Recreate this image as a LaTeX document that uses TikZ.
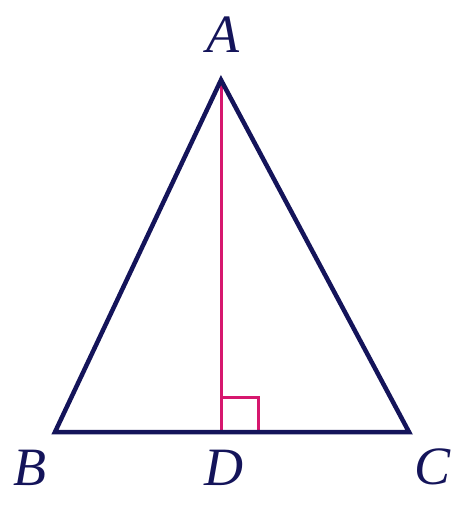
\documentclass[tikz,border=0pt]{standalone}
\usepackage{fontspec}
\setmainfont{Liberation Serif}
\usetikzlibrary{calc}
\begin{document}
\begin{tikzpicture}[x=1pt,y=-1pt,
  navy/.style={draw=navyc,line width=4.5pt,line join=miter},
  alt/.style={draw=magc,line width=3pt},
  lbl/.style={text=navyc,font=\fontsize{54}{60}\selectfont\itshape,inner sep=0pt}]
\definecolor{navyc}{HTML}{14145A}
\definecolor{magc}{HTML}{D6176E}
\useasboundingbox (0,0) rectangle (475,530);
\coordinate (A) at (221,80);
\coordinate (B) at (55,432);
\coordinate (C) at (409,432);
\coordinate (D) at (221,432);
\draw[alt] (A) -- (D);
\draw[alt] ($(D)+(0,-35)$) coordinate (r1) -- ++(37,0) coordinate (r2) -- ++(0,35);
\draw[navy] (A) -- (B) -- (C) -- cycle;
\node[lbl] (la) at (223,35) {A};
\node[lbl] (lb) at (30,468) {B};
\node[lbl] (ld) at (224,468) {D};
\node[lbl] (lc) at (433,467) {C};
\end{tikzpicture}
\end{document}
